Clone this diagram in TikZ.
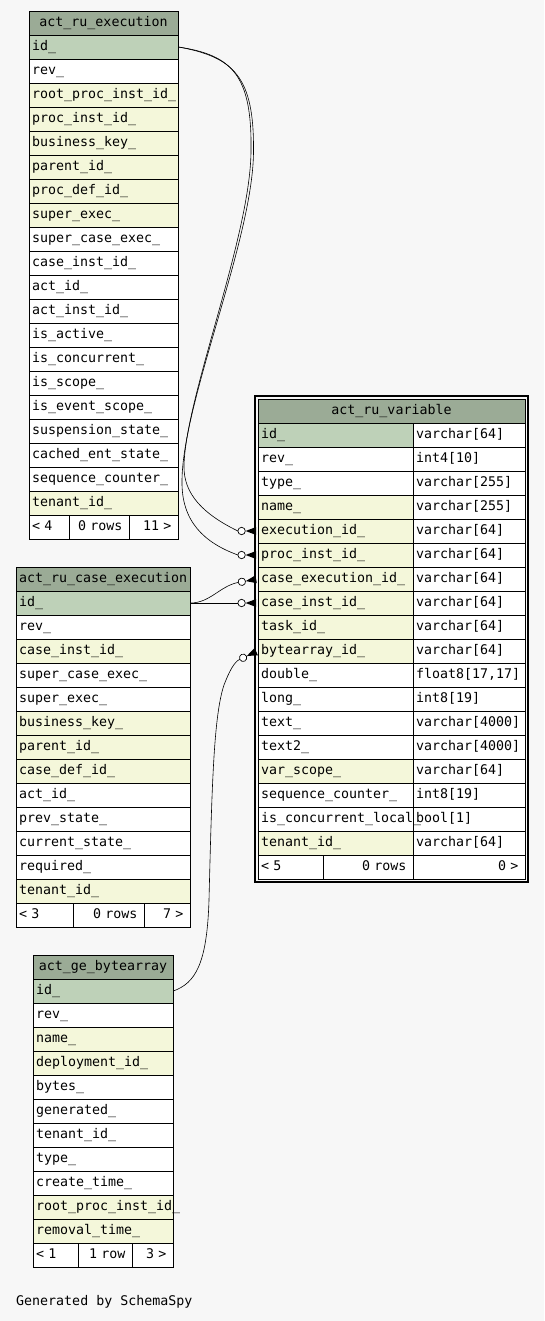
\documentclass[tikz,border=0pt]{standalone}
\usepackage{fontspec}
\setmainfont{DejaVu Sans Mono}
\definecolor{bgcol}{HTML}{F7F7F7}
\definecolor{headcol}{HTML}{9BAB96}
\definecolor{pkcol}{HTML}{BED1B8}
\definecolor{idxcol}{HTML}{F4F7DA}

\begin{document}
\begin{tikzpicture}[x=1pt,y=-1pt]
\tikzset{cell/.style={draw, line width=0.8pt, minimum height=24pt, inner xsep=3pt, inner ysep=0pt,
    align=left, text height=10pt, text depth=3pt, font=\fontsize{13.3}{16}\selectfont},
  headcell/.style={cell, fill=headcol, align=center},
  footmid/.style={cell, fill=white, align=right, inner xsep=6.5pt},
  link/.style={draw, line width=0.6pt},
  fkmark/.pic={
    \fill (-12pt,0) -- (-1.5pt,4pt) -- (-1.5pt,-4pt) -- cycle;
    \draw[line width=0.7pt, fill=white] (-16pt,0) circle (3.7pt);
    \coordinate (-tail) at (-19.7pt,0);
  }}
\fill[bgcol] (0,0) rectangle (544,1321);

% act_ru_execution
\node[headcell, text width=143pt] (ex-0) at (103.5,23) {act\_ru\_execution};
\foreach \txt/\col [count=\i] in {id\_/pkcol, rev\_/white, root\_proc\_inst\_id\_/idxcol,
    proc\_inst\_id\_/idxcol, business\_key\_/idxcol, parent\_id\_/idxcol, proc\_def\_id\_/idxcol,
    super\_exec\_/idxcol, super\_case\_exec\_/white, case\_inst\_id\_/white, act\_id\_/white,
    act\_inst\_id\_/white, is\_active\_/white, is\_concurrent\_/white, is\_scope\_/white,
    is\_event\_scope\_/white, suspension\_state\_/white, cached\_ent\_state\_/white,
    sequence\_counter\_/white, tenant\_id\_/idxcol}
  \node[cell, fill=\col, text width=143pt] (ex-\i) at (103.5,{23+24*\i}) {\txt};
\node[cell, fill=white, text width=34pt] (ex-f1) at (49,527) {< 4};
\node[footmid, text width=47pt] (ex-f2) at (99,527) {0 rows};
\node[footmid, text width=36pt] (ex-f3) at (153.5,527) {11 >};

% act_ru_case_execution
\node[headcell, text width=168pt] (ce-0) at (103,579) {act\_ru\_case\_execution};
\foreach \txt/\col [count=\i] in {id\_/pkcol, rev\_/white, case\_inst\_id\_/idxcol,
    super\_case\_exec\_/white, super\_exec\_/white, business\_key\_/idxcol, parent\_id\_/idxcol,
    case\_def\_id\_/idxcol, act\_id\_/white, prev\_state\_/white, current\_state\_/white,
    required\_/white, tenant\_id\_/idxcol}
  \node[cell, fill=\col, text width=168pt] (ce-\i) at (103,{579+24*\i}) {\txt};
\node[cell, fill=white, text width=51pt] (ce-f1) at (44.5,915) {< 3};
\node[footmid, text width=58pt] (ce-f2) at (108.5,915) {0 rows};
\node[footmid, text width=33pt] (ce-f3) at (167,915) {7 >};

% act_ge_bytearray
\node[headcell, text width=134pt] (ba-0) at (103,967) {act\_ge\_bytearray};
\foreach \txt/\col [count=\i] in {id\_/pkcol, rev\_/white, name\_/idxcol, deployment\_id\_/idxcol,
    bytes\_/white, generated\_/white, tenant\_id\_/white, type\_/white, create\_time\_/white,
    root\_proc\_inst\_id\_/idxcol, removal\_time\_/idxcol}
  \node[cell, fill=\col, text width=134pt] (ba-\i) at (103,{967+24*\i}) {\txt};
\node[cell, fill=white, text width=39pt] (ba-f1) at (55.5,1255) {< 1};
\node[footmid, text width=41pt] (ba-f2) at (105,1255) {1 row};
\node[footmid, text width=28pt] (ba-f3) at (152.5,1255) {3 >};

% act_ru_variable
\node[headcell, text width=261pt] (var-0) at (391.5,411) {act\_ru\_variable};
\foreach \typ [count=\i] in {varchar[64], int4[10], varchar[255], varchar[255], varchar[64],
    varchar[64], varchar[64], varchar[64], varchar[64], varchar[64], {float8[17,17]}, int8[19],
    varchar[4000], varchar[4000], varchar[64], int8[19], bool[1], varchar[64]}
  \node[cell, fill=white, text width=106pt] (vt-\i) at (469,{411+24*\i}) {\typ};
\foreach \txt/\col [count=\i] in {id\_/pkcol, rev\_/white, type\_/white, name\_/idxcol,
    execution\_id\_/idxcol, proc\_inst\_id\_/idxcol, case\_execution\_id\_/idxcol,
    case\_inst\_id\_/idxcol, task\_id\_/idxcol, bytearray\_id\_/idxcol, double\_/white,
    long\_/white, text\_/white, text2\_/white, var\_scope\_/idxcol, sequence\_counter\_/white,
    is\_concurrent\_local\_/white, tenant\_id\_/idxcol}
  \node[cell, fill=\col, text width=149pt] (var-\i) at (335.5,{411+24*\i}) {\txt};
\node[cell, fill=white, text width=59pt] (var-f1) at (290.5,867) {< 5};
\node[footmid, text width=77pt] (var-f2) at (368,867) {0 rows};
\node[footmid, text width=99pt] (var-f3) at (469,867) {0 >};
\draw[line width=2.5pt] ([xshift=-2.5pt,yshift=2.5pt]var-0.north west) rectangle ([xshift=2.5pt,yshift=-2.5pt]var-f3.south east);

% foreign keys
\pic (fkA) at (var-5.west) {fkmark};
\pic (fkB) at (var-6.west) {fkmark};
\pic[rotate=10] (fkC) at (var-7.west) {fkmark};
\pic (fkD) at (var-8.west) {fkmark};
\pic[rotate=25] (fkE) at (var-10.west) {fkmark};
\draw[link] (ex-1.east) .. controls (232,55) and (252,75) .. (251,150)
  .. controls (251,235) and (186,395) .. (184,465) .. controls (183,495) and (205,515) .. (fkA-tail);
\draw[link] (ex-1.east) .. controls (234,57) and (254,77) .. (253.5,150)
  .. controls (254,237) and (183,400) .. (182,480) .. controls (181,522) and (205,543) .. (fkB-tail);
\draw[link] (ce-1.east) .. controls (210,603) and (220,586) .. (fkC-tail);
\draw[link] (ce-1.east) -- (fkD-tail);
\draw[link] (ba-1.east) .. controls (195,983) and (207,965) .. (209,900)
  .. controls (212,780) and (214,715) .. (224,685) .. controls (229,672) and (234,662) .. (fkE-tail);

\node[anchor=west, inner sep=0pt, font=\fontsize{13.3}{16}\selectfont] (gen) at (16,1302) {Generated by SchemaSpy};
\end{tikzpicture}
\end{document}
